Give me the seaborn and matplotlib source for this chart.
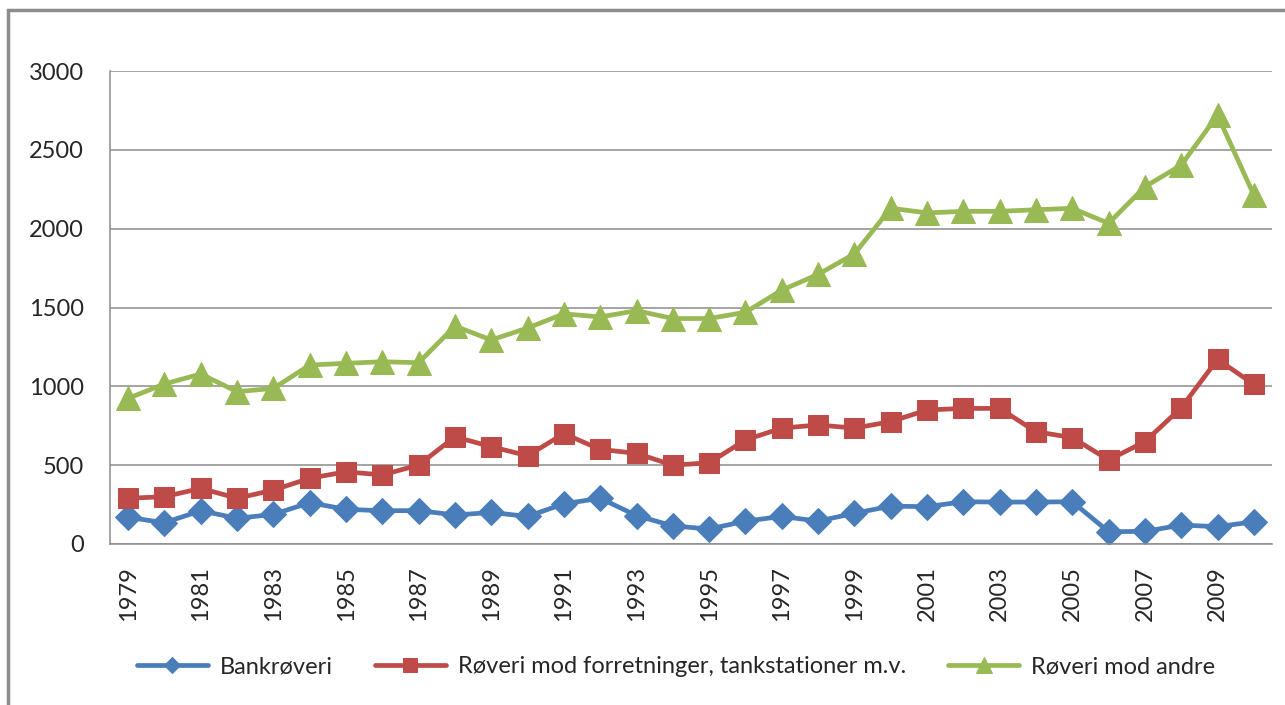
import matplotlib.pyplot as plt
import matplotlib.patches as mpatches
import seaborn as sns
import pandas as pd

years = list(range(1979, 2011))

bank = [169, 135, 211, 163, 188, 262, 220, 211, 212, 184, 200, 175, 255, 290, 180, 115,
        95, 145, 175, 145, 195, 240, 237, 268, 266, 266, 268, 78, 80, 120, 110, 141]
forretninger = [290, 300, 353, 290, 342, 417, 458, 438, 501, 680, 617, 560, 700, 600, 575, 500,
                515, 660, 735, 755, 735, 776, 850, 860, 860, 712, 675, 533, 649, 864, 1171, 1013]
andre = [924, 1015, 1078, 966, 987, 1135, 1146, 1156, 1150, 1382, 1294, 1370, 1460, 1440, 1480, 1430,
         1430, 1470, 1610, 1710, 1840, 2130, 2100, 2110, 2110, 2120, 2129, 2034, 2266, 2403, 2720, 2213]

series_names = ["Bankrøveri", "Røveri mod forretninger, tankstationer m.v.", "Røveri mod andre"]
colors = ["#4A7EBB", "#BE4B48", "#98B954"]
markers = ["D", "s", "^"]
marker_sizes = [13, 15, 17]

df = pd.DataFrame({"year": years, series_names[0]: bank,
                   series_names[1]: forretninger, series_names[2]: andre})
long = df.melt(id_vars="year", var_name="serie", value_name="antal")

sns.set_style("white")
plt.rcParams["font.family"] = ["Lato", "DejaVu Sans"]

fig = plt.figure(figsize=(12.85, 7.05), dpi=100)
ax = fig.add_axes([110 / 1285, 1 - 544 / 705, (1272 - 110) / 1285, (544 - 71) / 705])

for name, col, mk, ms in zip(series_names, colors, markers, marker_sizes):
    sub = long[long["serie"] == name]
    sns.lineplot(data=sub, x="year", y="antal", ax=ax, color=col, linewidth=3.4,
                 marker=mk, markersize=ms, markeredgecolor=col, label=name)

ax.set_xlim(years[0] - 0.5, years[-1] + 0.5)
ax.set_ylim(0, 3000)
ax.set_yticks(range(0, 3001, 500))
ax.yaxis.grid(True, color="#8c8c8c", linewidth=1.1)
ax.set_axisbelow(True)

# tick marks between categories, labels on every other year
ax.set_xticks([y - 0.5 for y in years] + [years[-1] + 0.5])
ax.set_xticklabels([])
ax.set_xticks(years[::2], minor=True)
ax.set_xticklabels([str(y) for y in years[::2]], minor=True, rotation=90, fontsize=17)
ax.tick_params(axis="x", which="major", length=7, width=1, color="#8c8c8c", direction="out")
ax.tick_params(axis="x", which="minor", length=0, pad=16)
ax.tick_params(axis="y", length=9, width=1, color="#8c8c8c", labelsize=17, pad=10)
ax.set_xlabel("")
ax.set_ylabel("")

for side in ["top", "right"]:
    ax.spines[side].set_visible(False)
for side in ["left", "bottom"]:
    ax.spines[side].set_color("#8c8c8c")
    ax.spines[side].set_linewidth(1.1)

ax.legend(loc="center", bbox_to_anchor=(0.487, -0.26), ncol=3, frameon=False,
          fontsize=17, handlelength=3.0, columnspacing=1.8, handletextpad=0.5,
          markerscale=0.65)

# outer chart frame
fig.patches.append(mpatches.Rectangle((8 / 1285, -0.01), 1.05, 1 - 10 / 705 + 0.01,
                                      transform=fig.transFigure, fill=False,
                                      edgecolor="#8c8c8c", linewidth=2.5))

fig.savefig("out.png", dpi=100)
